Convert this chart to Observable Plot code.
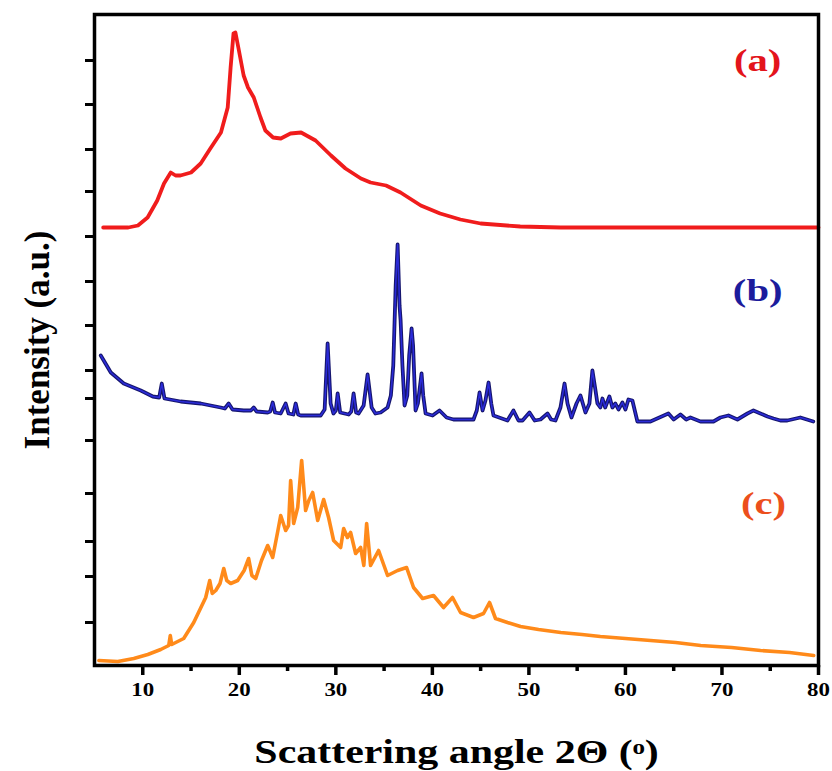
<!DOCTYPE html>
<html><head><meta charset="utf-8">
<script src="https://cdn.jsdelivr.net/npm/d3@7"></script>
<script src="https://cdn.jsdelivr.net/npm/@observablehq/plot@0.6"></script>
<style>body{margin:0;background:#fff}</style>
</head><body><div id="chart"></div>
<script>
// ---- tick values ----
const xMajor = [10, 20, 30, 40, 50, 60, 70, 80];
const xMinor = [15, 25, 35, 45, 55, 65, 75];
const yTicks = [605, 561, 516, 474, 429, 384, 340, 295, 267, 225, 172, 124, 89, 43];

// ---- (a) red ----
const aAngle = [5.9, 8.5, 9.5, 10.5, 11.5, 12.2, 12.9, 13.4, 13.9, 15.0, 16.0, 17.0, 18.1, 18.8, 19.1, 19.4, 19.6, 19.9, 20.45, 20.9, 21.5, 22.2, 22.7, 23.5, 24.3, 25.3, 26.4, 27.9, 29.5, 31.0, 32.6, 33.6, 35.2, 36.7, 38.8, 40.8, 42.9, 45.0, 49.1, 53.3, 60, 70, 80];
const aInt   = [438, 438, 440, 448, 465, 482, 493, 490, 490, 493, 502, 517, 533, 558, 598, 632, 633, 618, 590, 578, 568, 548, 535, 528, 527, 532, 533, 525, 510, 497, 487, 483, 480, 473, 460, 452, 446, 442, 439, 438, 438, 438, 438];

// ---- (b) blue ----
const bAngle = [5.65, 6.69, 8.03, 9.79, 11.04, 11.7, 11.97, 12.25, 13.93, 16.0, 18.07, 18.5, 18.9, 19.3, 20.46, 21.2, 21.49, 21.8, 22.94, 23.2, 23.46, 23.7, 24.29, 24.8, 25.1, 25.6, 25.84, 26.1, 26.36, 27.39, 28.43, 28.84, 29.15, 29.46, 29.75, 30.0, 30.19, 30.45, 31.33, 31.6, 31.84, 32.1, 32.36, 32.88, 33.29, 33.71, 34.1, 34.64, 35.36, 35.7, 35.95, 36.2, 36.4, 36.6, 36.71, 36.9, 37.12, 37.4, 37.6, 37.85, 38.0, 38.26, 38.5, 38.88, 39.05, 39.3, 40.02, 40.74, 41.47, 42.19, 44.26, 44.6, 44.89, 45.2, 45.5, 45.82, 46.1, 46.33, 47.78, 48.4, 48.92, 49.34, 50.06, 50.6, 51.2, 51.93, 52.3, 52.75, 53.27, 53.69, 54.0, 54.41, 54.93, 55.34, 55.86, 56.27, 56.58, 56.9, 57.1, 57.4, 57.62, 57.9, 58.34, 58.65, 58.96, 59.28, 59.69, 60.0, 60.31, 60.72, 61.24, 62.59, 64.45, 65.0, 65.7, 66.3, 66.73, 67.77, 69.12, 69.84, 70.67, 71.6, 72.64, 73.26, 73.98, 74.71, 75.33, 76.05, 76.77, 78.12, 79.46];
const bInt   = [310, 293, 282, 275, 269, 268, 282, 267, 264, 262, 258, 257, 262, 256, 255, 255, 258, 254, 253, 254, 263, 253, 252, 262, 252, 251, 262, 251, 250, 250, 250, 256, 322, 262, 252, 255, 272, 253, 251, 254, 272, 253, 252, 260, 291, 258, 252, 253, 258, 270, 300, 380, 421, 360, 345, 300, 260, 270, 310, 337, 320, 255, 262, 292, 270, 252, 250, 255, 248, 246, 246, 255, 273, 255, 265, 283, 262, 250, 245, 255, 245, 245, 253, 245, 246, 252, 246, 245, 258, 282, 262, 248, 262, 270, 253, 262, 295, 275, 262, 258, 267, 258, 269, 258, 262, 256, 263, 256, 266, 265, 244, 244, 252, 246, 251, 246, 248, 244, 244, 248, 250, 246, 252, 255, 252, 249, 247, 245, 245, 248, 244];

// ---- (c) orange ----
const cAngle = [5.45, 7.41, 9.07, 10.52, 11.86, 12.69, 12.85, 13.0, 14.24, 15.28, 16.52, 16.94, 17.2, 17.56, 18.0, 18.39, 18.7, 19.11, 19.83, 20.5, 20.97, 21.3, 21.7, 22.3, 22.94, 23.46, 24.0, 24.29, 24.8, 25.1, 25.32, 25.63, 26.05, 26.46, 26.87, 27.2, 27.6, 28.12, 28.74, 29.25, 29.77, 30.5, 30.81, 31.2, 31.53, 32.05, 32.57, 32.9, 33.19, 33.6, 34.43, 35.36, 36.4, 37.33, 38.05, 38.99, 40.12, 41.16, 42.09, 42.92, 44.26, 45.3, 45.92, 46.54, 47.78, 49.13, 51.0, 53.3, 55.5, 57.4, 60.0, 62.6, 65.2, 67.8, 71.0, 74.0, 77.0, 79.5];
const cInt   = [5, 4, 7, 11, 16, 20, 30, 21, 27, 43, 68, 85, 72, 75, 82, 97, 85, 82, 85, 95, 107, 90, 87, 105, 120, 108, 135, 150, 135, 140, 185, 142, 158, 205, 155, 165, 173, 145, 166, 148, 125, 118, 137, 128, 133, 112, 118, 100, 142, 100, 115, 90, 95, 98, 78, 67, 70, 58, 68, 53, 48, 52, 63, 47, 43, 39, 36, 33, 31, 29, 27, 25, 23, 20, 18, 15, 13, 10];

// ---- labels ----
const panelText  = ["(a)", "(b)", "(c)"];
const panelAngle = [73.7, 73.7, 74.3];
const panelInt   = [605, 375, 162];
const xLabel = "Scattering angle 2\u0398 (\u1D52)";
const yLabel = "Intensity (a.u.)";

const toRows = (xs, ys) => xs.map((x, i) => ({x, y: ys[i]}));
const A = toRows(aAngle, aInt), B = toRows(bAngle, bInt), C = toRows(cAngle, cInt);
const P = panelText.map((t, i) => ({t, x: panelAngle[i], y: panelInt[i]}));

const chart = Plot.plot({
  width: 832, height: 771,
  marginLeft: 94, marginRight: 14, marginTop: 14, marginBottom: 106,
  x: {domain: [5, 80]},
  y: {domain: [0, 651]},
  style: {fontFamily: "'Liberation Serif','Times New Roman',serif", fontWeight: "bold", fontSize: "18px", background: "white", color: "black"},
  marks: [
    Plot.line(A, {x: "x", y: "y", stroke: "#f01c1c", strokeWidth: 3.8}),
    Plot.line(B, {x: "x", y: "y", stroke: "#16166e", strokeWidth: 3.8}),
    Plot.line(B, {x: "x", y: "y", stroke: "#2b2bd8", strokeWidth: 1.5}),
    Plot.line(C, {x: "x", y: "y", stroke: "#ff8a1a", strokeWidth: 3.6}),
    Plot.frame({stroke: "black", strokeWidth: 3.5}),
    Plot.axisX({ticks: xMajor, tickSize: 10, tickPadding: 8, strokeWidth: 3.5, label: null, fontSize: 18}),
    Plot.axisX({ticks: xMinor, tickSize: 6, tickFormat: () => "", strokeWidth: 3.5, label: null}),
    Plot.axisY({ticks: yTicks, tickSize: 9, tickFormat: () => "", strokeWidth: 3, label: null}),
    Plot.text([xLabel], {text: d => d, frameAnchor: "bottom", textAnchor: "middle", dy: 97, lineAnchor: "bottom", fontSize: 33, fontWeight: "bold", fill: "black"}),
    Plot.text([yLabel], {text: d => d, frameAnchor: "left", textAnchor: "middle", dx: -46, rotate: -90, lineAnchor: "bottom", fontSize: 35, fontWeight: "bold", fill: "black"}),
    Plot.text([P[0]], {x: "x", y: "y", text: "t", fill: "#e3141c", fontSize: 32, fontWeight: "bold"}),
    Plot.text([P[1]], {x: "x", y: "y", text: "t", fill: "#1c1c9c", fontSize: 32, fontWeight: "bold"}),
    Plot.text([P[2]], {x: "x", y: "y", text: "t", fill: "#ec4f1c", fontSize: 32, fontWeight: "bold"})
  ]
});
document.getElementById("chart").appendChild(chart);

// the reference's horizontal text is widened; stretch non-rotated labels
d3.select(chart).selectAll("text").each(function () {
  const tr = this.getAttribute("transform") || "";
  if (tr.includes("rotate")) return;
  const w = this.getComputedTextLength();
  if (w > 0) {
    this.setAttribute("textLength", (w * 1.27).toFixed(1));
    this.setAttribute("lengthAdjust", "spacingAndGlyphs");
  }
});
</script>
</body></html>
